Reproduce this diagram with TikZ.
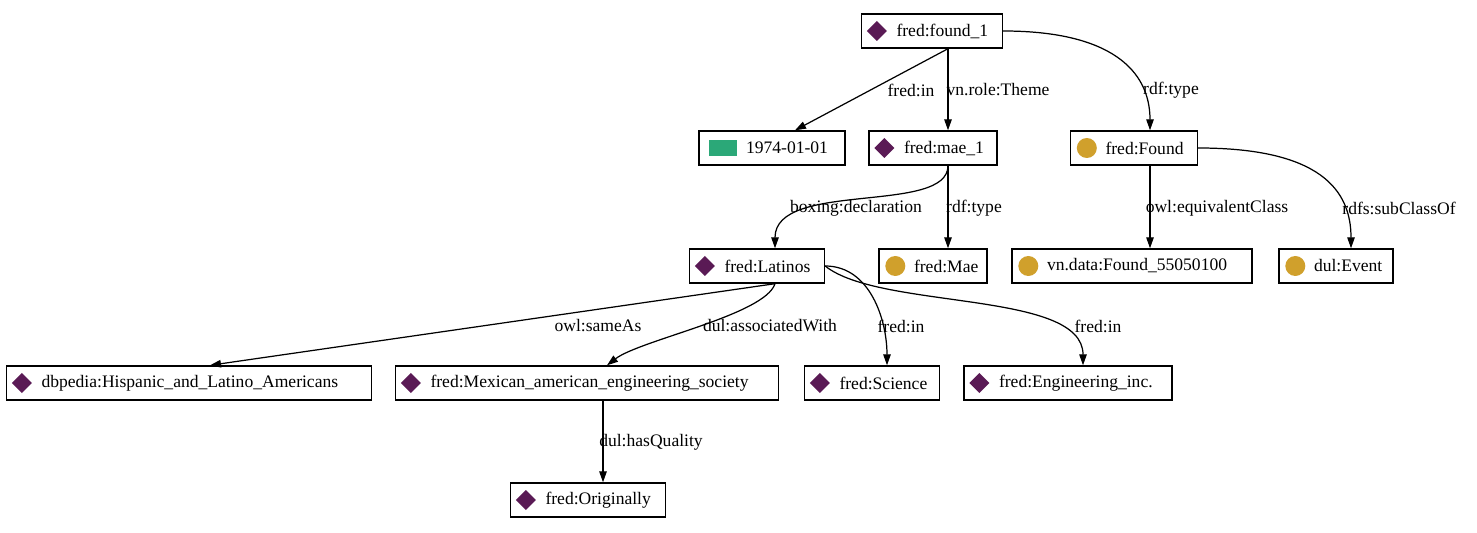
\documentclass[tikz,border=0pt]{standalone}
\usepackage{fontspec}
\setmainfont{Liberation Serif}
\usetikzlibrary{arrows.meta, positioning, calc}
\definecolor{fredpurple}{HTML}{5A1A55}
\definecolor{fredgold}{HTML}{D0A02C}
\definecolor{fredgreen}{HTML}{2BA878}
\newcommand{\ipad}{\hspace*{0.46cm}}

\begin{document}
\begin{tikzpicture}[
  x=0.02cm, y=-0.02cm,
  >={Triangle[length=2.2mm, width=1.5mm]},
  box/.style={
    draw, line width=0.8pt, text width=#1, align=left,
    minimum height=0.68cm, inner xsep=0.24cm, inner ysep=0pt
  },
  edge/.style={->, line width=0.7pt},
  lbl/.style={inner sep=0pt},
  gem/.style={fill=fredpurple},
  dot/.style={fill=fredgold},
]
\useasboundingbox (0,0) rectangle (1477,533);

% Nodes
\node[box=2.34cm] (found1) at (932,31) {\ipad fred:found\_1};
\node[box=2.44cm] (d1974) at (772,148) {\hspace*{0.7cm}1974-01-01};
\node[box=2.08cm] (mae1) at (933,148) {\ipad fred:mae\_1};
\node[box=2.06cm] (foundcls) at (1134,148) {\ipad fred:Found};
\node[box=2.22cm] (latinos) at (757,266) {\ipad fred:Latinos};
\node[box=1.68cm] (maecls) at (933,266) {\ipad fred:Mae};
\node[box=4.32cm] (vnfound) at (1132,266) {\ipad vn.data:Found\_55050100};
\node[box=1.80cm] (event) at (1336,266) {\ipad dul:Event};
\node[box=6.82cm] (dbpedia) at (189,383) {\ipad dbpedia:Hispanic\_and\_Latino\_Americans};
\node[box=7.18cm] (mexican) at (587,383) {\ipad fred:Mexican\_american\_engineering\_society};
\node[box=2.22cm] (science) at (872,383) {\ipad fred:Science};
\node[box=3.68cm] (enginc) at (1068,383) {\ipad fred:Engineering\_inc.};
\node[box=2.62cm] (orig) at (588,500) {\ipad fred:Originally};

% Icons
\foreach \n in {found1, mae1, latinos, dbpedia, mexican, science, enginc, orig}
  \fill[gem] ($(\n.west)+(16,0)$) +(0,-10) -- +(10,0) -- +(0,10) -- +(-10,0) -- cycle;
\foreach \n in {foundcls, maecls, vnfound, event}
  \fill[dot] ($(\n.west)+(17,0)$) circle (10);
\fill[fredgreen] ($(d1974.west)+(11,-8)$) rectangle ++(28,16);

% Edges
\draw[edge] ($(found1.south)+(16,0)$) -- ($(d1974.north)+(23,0)$);
\draw[edge] ($(found1.south)+(16,0)$) -- ($(mae1.north)+(15,0)$);
\draw[edge] (found1.east) .. controls (1110,31) and (1150,70) .. ($(foundcls.north)+(16,0)$);
\draw[edge] ($(mae1.south)+(15,0)$) .. controls (948,215) and (775,180) .. ($(latinos.north)+(18,0)$);
\draw[edge] ($(mae1.south)+(15,0)$) -- ($(maecls.north)+(15,0)$);
\draw[edge] ($(foundcls.south)+(16,0)$) -- ($(vnfound.north)+(18,0)$);
\draw[edge] (foundcls.east) .. controls (1320,148) and (1351,190) .. ($(event.north)+(15,0)$);
\draw[edge] ($(latinos.south)+(18,0)$) -- ($(dbpedia.north)+(21,0)$);
\draw[edge] ($(latinos.south)+(18,0)$) .. controls (765,315) and (640,340) .. ($(mexican.north)+(20,0)$);
\draw[edge] (latinos.east) .. controls (870,266) and (887,320) .. ($(science.north)+(15,0)$);
\draw[edge] (latinos.east) .. controls (880,310) and (1083,290) .. ($(enginc.north)+(15,0)$);
\draw[edge] ($(mexican.south)+(16,0)$) -- ($(orig.north)+(15,0)$);

% Edge labels
\node[lbl] (l-in1) at (911,90) {fred:in};
\node[lbl] (l-theme) at (998,90) {vn.role:Theme};
\node[lbl] (l-type1) at (1171,90) {rdf:type};
\node[lbl] (l-decl) at (856,208) {boxing:declaration};
\node[lbl] (l-type2) at (974,208) {rdf:type};
\node[lbl] (l-equiv) at (1217,208) {owl:equivalentClass};
\node[lbl] (l-sub) at (1399,208) {rdfs:subClassOf};
\node[lbl] (l-same) at (598,326) {owl:sameAs};
\node[lbl] (l-assoc) at (770,326) {dul:associatedWith};
\node[lbl] (l-in2) at (901,326) {fred:in};
\node[lbl] (l-in3) at (1098,326) {fred:in};
\node[lbl] (l-qual) at (651,442) {dul:hasQuality};

\end{tikzpicture}
\end{document}
